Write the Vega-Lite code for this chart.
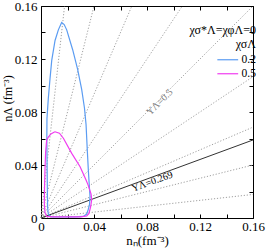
{
  "$schema": "https://vega.github.io/schema/vega-lite/v6.json",
  "width": 212,
  "height": 212,
  "autosize": {"type": "none"},
  "padding": {"left": 41, "top": 6, "right": 13, "bottom": 30},
  "background": "white",
  "config": {
    "view": {"stroke": null},
    "font": "Liberation Serif",
    "axis": {"grid": false, "domainColor": "black", "tickColor": "black", "labelColor": "black", "titleColor": "black", "labelFont": "Liberation Serif", "titleFont": "Liberation Serif", "labelFontSize": 13, "titleFontSize": 13, "titleFontWeight": "normal"},
    "legend": {"labelFont": "Liberation Serif", "titleFont": "Liberation Serif"}
  },
  "datasets": {
    "rays": [
      {"Y": 0.1, "x": 0, "y": 0}, {"Y": 0.1, "x": 0.16, "y": 0.01778},
      {"Y": 0.2, "x": 0, "y": 0}, {"Y": 0.2, "x": 0.16, "y": 0.04},
      {"Y": 0.3, "x": 0, "y": 0}, {"Y": 0.3, "x": 0.16, "y": 0.06857},
      {"Y": 0.4, "x": 0, "y": 0}, {"Y": 0.4, "x": 0.16, "y": 0.10667},
      {"Y": 0.5, "x": 0, "y": 0}, {"Y": 0.5, "x": 0.16, "y": 0.16},
      {"Y": 0.6, "x": 0, "y": 0}, {"Y": 0.6, "x": 0.10667, "y": 0.16},
      {"Y": 0.7, "x": 0, "y": 0}, {"Y": 0.7, "x": 0.06857, "y": 0.16},
      {"Y": 0.8, "x": 0, "y": 0}, {"Y": 0.8, "x": 0.04, "y": 0.16},
      {"Y": 0.9, "x": 0, "y": 0}, {"Y": 0.9, "x": 0.01778, "y": 0.16}
    ],
    "solid": [
      {"x": 0, "y": 0}, {"x": 0.16, "y": 0.05888}
    ],
    "curves": [
      {"s": "0.2", "i": 1, "x": 0.0075, "y": 0.0009},
      {"s": "0.2", "i": 2, "x": 0.0055, "y": 0.003},
      {"s": "0.2", "i": 3, "x": 0.0050, "y": 0.008},
      {"s": "0.2", "i": 4, "x": 0.0048, "y": 0.02},
      {"s": "0.2", "i": 5, "x": 0.0046, "y": 0.04},
      {"s": "0.2", "i": 6, "x": 0.0044, "y": 0.06},
      {"s": "0.2", "i": 7, "x": 0.0045, "y": 0.075},
      {"s": "0.2", "i": 8, "x": 0.0055, "y": 0.09},
      {"s": "0.2", "i": 9, "x": 0.0068, "y": 0.105},
      {"s": "0.2", "i": 10, "x": 0.0081, "y": 0.119},
      {"s": "0.2", "i": 11, "x": 0.0106, "y": 0.134},
      {"s": "0.2", "i": 12, "x": 0.0131, "y": 0.142},
      {"s": "0.2", "i": 13, "x": 0.0156, "y": 0.1475},
      {"s": "0.2", "i": 14, "x": 0.0175, "y": 0.146},
      {"s": "0.2", "i": 15, "x": 0.0194, "y": 0.142},
      {"s": "0.2", "i": 16, "x": 0.0239, "y": 0.127},
      {"s": "0.2", "i": 17, "x": 0.0277, "y": 0.112},
      {"s": "0.2", "i": 18, "x": 0.0307, "y": 0.097},
      {"s": "0.2", "i": 19, "x": 0.0328, "y": 0.083},
      {"s": "0.2", "i": 20, "x": 0.0340, "y": 0.0706},
      {"s": "0.2", "i": 21, "x": 0.0350, "y": 0.050},
      {"s": "0.2", "i": 22, "x": 0.0357, "y": 0.0366},
      {"s": "0.2", "i": 23, "x": 0.0366, "y": 0.022},
      {"s": "0.2", "i": 24, "x": 0.0370, "y": 0.0165},
      {"s": "0.2", "i": 25, "x": 0.0366, "y": 0.010},
      {"s": "0.2", "i": 26, "x": 0.0357, "y": 0.0066},
      {"s": "0.2", "i": 27, "x": 0.0345, "y": 0.003},
      {"s": "0.2", "i": 28, "x": 0.032, "y": 0.0012},
      {"s": "0.2", "i": 29, "x": 0.025, "y": 0.0009},
      {"s": "0.2", "i": 30, "x": 0.015, "y": 0.0009},
      {"s": "0.2", "i": 31, "x": 0.0075, "y": 0.0009},
      {"s": "0.5", "i": 1, "x": 0.0105, "y": 0.0651},
      {"s": "0.5", "i": 2, "x": 0.0075, "y": 0.0635},
      {"s": "0.5", "i": 3, "x": 0.0055, "y": 0.061},
      {"s": "0.5", "i": 4, "x": 0.0043, "y": 0.0589},
      {"s": "0.5", "i": 5, "x": 0.0035, "y": 0.050},
      {"s": "0.5", "i": 6, "x": 0.0030, "y": 0.0362},
      {"s": "0.5", "i": 7, "x": 0.0027, "y": 0.025},
      {"s": "0.5", "i": 8, "x": 0.0025, "y": 0.0111},
      {"s": "0.5", "i": 9, "x": 0.0030, "y": 0.004},
      {"s": "0.5", "i": 10, "x": 0.0043, "y": 0.0012},
      {"s": "0.5", "i": 11, "x": 0.010, "y": 0.0008},
      {"s": "0.5", "i": 12, "x": 0.020, "y": 0.0008},
      {"s": "0.5", "i": 13, "x": 0.030, "y": 0.0009},
      {"s": "0.5", "i": 14, "x": 0.0345, "y": 0.0015},
      {"s": "0.5", "i": 15, "x": 0.0362, "y": 0.0035},
      {"s": "0.5", "i": 16, "x": 0.0375, "y": 0.0085},
      {"s": "0.5", "i": 17, "x": 0.0382, "y": 0.0136},
      {"s": "0.5", "i": 18, "x": 0.0378, "y": 0.018},
      {"s": "0.5", "i": 19, "x": 0.0370, "y": 0.0205},
      {"s": "0.5", "i": 20, "x": 0.0355, "y": 0.025},
      {"s": "0.5", "i": 21, "x": 0.0340, "y": 0.0287},
      {"s": "0.5", "i": 22, "x": 0.0295, "y": 0.0387},
      {"s": "0.5", "i": 23, "x": 0.0232, "y": 0.0488},
      {"s": "0.5", "i": 24, "x": 0.0169, "y": 0.0602},
      {"s": "0.5", "i": 25, "x": 0.0139, "y": 0.064},
      {"s": "0.5", "i": 26, "x": 0.0105, "y": 0.0651}
    ],
    "labels": [
      {"t": "YΛ=0.5", "x": 0.0895, "y": 0.0875, "a": -45, "c": "gray"},
      {"t": "YΛ=0.269", "x": 0.084, "y": 0.0275, "a": -20, "c": "black"}
    ]
  },
  "resolve": {"axis": {"x": "independent", "y": "independent"}},
  "layer": [
    {
      "data": {"name": "rays"},
      "mark": {"type": "line", "color": "#a0a0a0", "strokeWidth": 1, "strokeDash": [1.2, 1.8]},
      "encoding": {
        "x": {"field": "x", "type": "quantitative", "scale": {"domain": [0, 0.16], "nice": false},
              "axis": {"orient": "top", "labels": false, "title": null, "values": [0, 0.02, 0.04, 0.06, 0.08, 0.1, 0.12, 0.14, 0.16], "tickSize": -4, "domainWidth": 1}},
        "y": {"field": "y", "type": "quantitative", "scale": {"domain": [0, 0.16], "nice": false},
              "axis": {"orient": "right", "labels": false, "title": null, "values": [0, 0.02, 0.04, 0.06, 0.08, 0.1, 0.12, 0.14, 0.16], "tickSize": -4, "domainWidth": 1}},
        "detail": {"field": "Y"}
      }
    },
    {
      "data": {"name": "solid"},
      "mark": {"type": "line", "color": "#333333", "strokeWidth": 1},
      "encoding": {
        "x": {"field": "x", "type": "quantitative", "axis": null},
        "y": {"field": "y", "type": "quantitative", "axis": null}
      }
    },
    {
      "data": {"name": "curves"},
      "mark": {"type": "line", "strokeWidth": 1.2},
      "encoding": {
        "x": {"field": "x", "type": "quantitative",
              "axis": {"orient": "bottom", "title": "nₙ(fm⁻³)", "values": [0, 0.02, 0.04, 0.06, 0.08, 0.1, 0.12, 0.14, 0.16], "format": ".2~f", "labelExpr": "indexof(['0','0.04','0.08','0.12','0.16'], datum.label) >= 0 ? datum.label : ''", "tickSize": -4, "labelPadding": 6, "titlePadding": 1, "domainWidth": 1, "labelFlush": false}},
        "y": {"field": "y", "type": "quantitative",
              "axis": {"orient": "left", "title": "nΛ (fm⁻³)", "titleFontSize": 12, "titleY": 92, "values": [0, 0.02, 0.04, 0.06, 0.08, 0.1, 0.12, 0.14, 0.16], "format": ".2~f", "labelExpr": "indexof(['0','0.04','0.08','0.12','0.16'], datum.label) >= 0 ? datum.label : ''", "tickSize": -4, "labelPadding": 8, "titlePadding": 0, "domainWidth": 1, "labelFlush": false}},
        "order": {"field": "i", "type": "quantitative"},
        "color": {"field": "s", "type": "nominal",
                  "scale": {"domain": ["0.2", "0.5"], "range": ["#5b9cf2", "#f03cf0"]},
                  "legend": {"orient": "none", "legendX": 149, "legendY": 19, "padding": 0, "title": ["χσ*Λ=χφΛ=0", "χσΛ"], "titleAnchor": "end", "titleAlign": "right", "titleFontSize": 12, "titleLineHeight": 14, "titleFontWeight": "normal", "titleColor": "black", "titlePadding": 3, "labelFontSize": 11.5, "labelColor": "black", "labelOffset": 8, "symbolType": "M-2.6,0H2.6", "symbolSize": 64, "symbolStrokeWidth": 1.2, "symbolFillColor": "transparent", "rowPadding": 1}}
      }
    },
    {
      "data": {"name": "labels"},
      "mark": {"type": "text", "fontSize": 10, "align": "center", "baseline": "middle", "font": "Liberation Serif"},
      "encoding": {
        "x": {"field": "x", "type": "quantitative", "axis": null},
        "y": {"field": "y", "type": "quantitative", "axis": null},
        "text": {"field": "t"},
        "angle": {"field": "a", "type": "quantitative", "scale": null},
        "color": {"field": "c", "type": "nominal", "scale": null}
      }
    }
  ]
}
